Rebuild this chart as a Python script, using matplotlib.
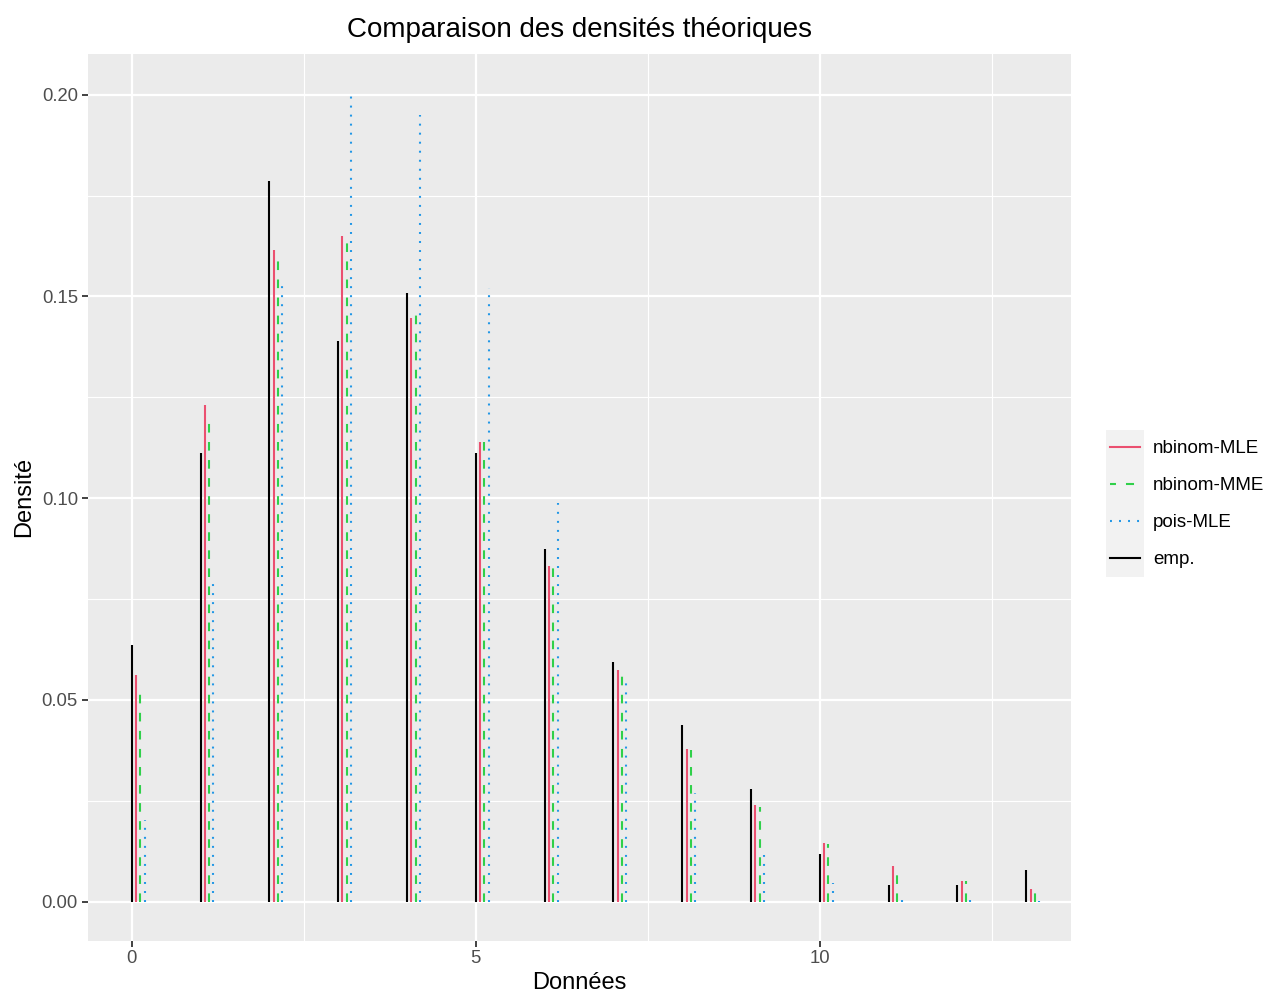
import matplotlib
matplotlib.use("Agg")
import matplotlib.pyplot as plt
from matplotlib.lines import Line2D
from matplotlib.patches import Rectangle
from matplotlib.ticker import MultipleLocator, FormatStrFormatter

plt.rcParams['font.family'] = ['Liberation Sans', 'DejaVu Sans']
plt.rcParams['lines.scale_dashes'] = False

# Observed counts 0..13
donnees = list(range(14))
emp = [0.0635, 0.1111, 0.1786, 0.1389, 0.1508, 0.1111, 0.0873,
       0.0595, 0.0437, 0.0278, 0.0119, 0.0040, 0.0040, 0.0079]
nbinom_mle = [0.0561, 0.1230, 0.1615, 0.1650, 0.1446, 0.1138, 0.0832,
              0.0573, 0.0377, 0.0239, 0.0146, 0.0088, 0.0052, 0.0030]
nbinom_mme = [0.0522, 0.1195, 0.1603, 0.1645, 0.1464, 0.1148, 0.0835,
              0.0566, 0.0375, 0.0234, 0.0142, 0.0070, 0.0050, 0.0025]
pois_mle = [0.0202, 0.0789, 0.1539, 0.1999, 0.1950, 0.1521, 0.0988,
            0.0550, 0.0268, 0.0116, 0.0045, 0.0016, 0.0005, 0.0002]

series_names = ["nbinom-MLE", "nbinom-MME", "pois-MLE", "emp."]
title = "Comparaison des densités théoriques"
xlabel = "Données"
ylabel = "Densité"

W, H = 1267, 994
fig = plt.figure(figsize=(W / 100, H / 100), dpi=100)
fig.patch.set_facecolor("white")

pl, pr, pt, pb = 87.7, 1071, 54, 940.7
ax = fig.add_axes([pl / W, 1 - pb / H, (pr - pl) / W, (pb - pt) / H])
ax.set_facecolor("#EBEBEB")
for s in ax.spines.values():
    s.set_visible(False)

ax.set_xlim(-0.64, 13.65)
ax.set_ylim(-0.0097, 0.2101)
ax.xaxis.set_major_locator(MultipleLocator(5))
ax.xaxis.set_minor_locator(MultipleLocator(2.5))
ax.yaxis.set_major_locator(MultipleLocator(0.05))
ax.yaxis.set_minor_locator(MultipleLocator(0.025))
ax.grid(which="major", color="white", linewidth=1.6)
ax.grid(which="minor", color="white", linewidth=0.8)
ax.set_axisbelow(True)
ax.tick_params(which="major", length=4, width=1.3, color="#333333",
               labelsize=13.3, labelcolor="#4D4D4D", pad=3)
ax.tick_params(which="minor", length=0)
ax.yaxis.set_major_formatter(FormatStrFormatter("%.2f"))

col_emp = "black"
col_mle = "#EB5070"
col_mme = "#30D04A"
col_pois = "#2297E6"
step = 0.0625
lw = 1.5

x = donnees
ax.vlines([v + 0 * step for v in x], 0, emp, color=col_emp, linewidth=lw)
ax.vlines([v + 1 * step for v in x], 0, nbinom_mle, color=col_mle, linewidth=lw)
ax.vlines([v + 2 * step for v in x], 0, nbinom_mme, color=col_mme, linewidth=lw,
          linestyle=(0, (6.2, 6.8)))
ax.vlines([v + 3 * step for v in x], 0, pois_mle, color=col_pois, linewidth=lw,
          linestyle=(0, (1.4, 5.1)))

ax.set_title(title, fontsize=20, color="black", pad=12)
ax.set_xlabel(xlabel, fontsize=17, labelpad=3)
ax.set_ylabel(ylabel, fontsize=17, labelpad=5)

# Legend: grey key background, then entries
fig.patches.append(Rectangle((1106 / W, 1 - 577 / H), 38 / W, 147 / H,
                             transform=fig.transFigure, facecolor="#F2F2F2",
                             edgecolor="none", zorder=0))
handles = [
    Line2D([], [], color=col_mle, linewidth=lw),
    Line2D([], [], color=col_mme, linewidth=lw, linestyle=(1.5, (5.8, 7.2))),
    Line2D([], [], color=col_pois, linewidth=lw, linestyle=(0, (1.4, 5.1))),
    Line2D([], [], color=col_emp, linewidth=lw),
]
fig.legend(handles, series_names, loc="center left",
           bbox_to_anchor=(1110 / W, 1 - 504 / H), frameon=False,
           fontsize=13.5, handlelength=1.6, handletextpad=0.7,
           labelspacing=1.06, borderpad=0, borderaxespad=0)

fig.savefig("out.png", dpi=100)
